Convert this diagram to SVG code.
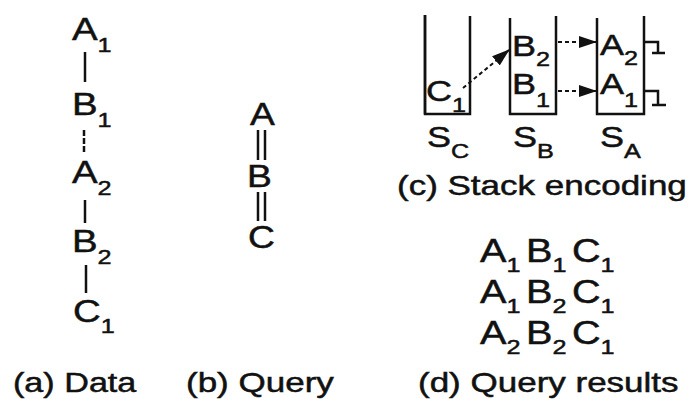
<svg xmlns="http://www.w3.org/2000/svg" width="691" height="399" viewBox="0 0 691 399">
  <style>
    text { font-family: "Liberation Sans", Arial, Helvetica, sans-serif; fill: #111; stroke: #111; stroke-width: 0.5; }
    .d { font-size: 32px; }
    .q { font-size: 31px; }
    .s { font-size: 30px; }
    .r { font-size: 33px; }
    .cap { font-size: 28px; }
    .sub { font-size: 21px; }
    .edge { stroke: #111; stroke-width: 2.5; fill: none; }
    .dash { stroke: #111; stroke-width: 2; stroke-dasharray: 4 3; fill: none; }
    .wall { stroke: #111; stroke-width: 2.5; fill: none; }
  </style>
  <defs>
    <marker id="head" markerUnits="userSpaceOnUse" markerWidth="18" markerHeight="12" refX="17" refY="6" orient="auto">
      <path d="M0,0 L18,6 L0,12 Z" fill="#111"/>
    </marker>
  </defs>

  <!-- (a) data tree -->
  <g id="A1"><text class="d" transform="translate(72 40) scale(1.2 1)">A<tspan class="sub" dy="12">1</tspan></text></g>
  <g id="B1"><text class="d" transform="translate(72 115) scale(1.2 1)">B<tspan class="sub" dy="12">1</tspan></text></g>
  <g id="A2"><text class="d" transform="translate(72 183) scale(1.2 1)">A<tspan class="sub" dy="12">2</tspan></text></g>
  <g id="B2"><text class="d" transform="translate(72 252) scale(1.2 1)">B<tspan class="sub" dy="12">2</tspan></text></g>
  <g id="C1"><text class="d" transform="translate(73 322) scale(1.2 1)">C<tspan class="sub" dy="11">1</tspan></text></g>

  <!-- (b) query pattern -->
  <g id="qA"><text class="q" transform="translate(250 125) scale(1.2 1)">A</text></g>
  <g id="qB"><text class="q" transform="translate(247 187) scale(1.2 1)">B</text></g>
  <g id="qC"><text class="q" transform="translate(248 248) scale(1.2 1)">C</text></g>

  <!-- (c) stacks -->
  <g id="stackC">
    <path class="wall" d="M425,15 V114 H470 V16"/>
    <line class="wall" stroke-width="3.2" x1="425" y1="15" x2="425" y2="114"/>
    <text class="s" transform="translate(426 101) scale(1.2 1)">C<tspan class="sub" dy="11">1</tspan></text>
    <text class="s" transform="translate(427 147) scale(1.2 1)">S<tspan class="sub" dy="11">C</tspan></text>
  </g>
  <g id="stackB">
    <path class="wall" d="M510,18 V114 H556 V16"/>
    <text class="s" transform="translate(512 56) scale(1.2 1)">B<tspan class="sub" dy="10">2</tspan></text>
    <text class="s" transform="translate(512 94) scale(1.2 1)">B<tspan class="sub" dy="13">1</tspan></text>
    <text class="s" transform="translate(513 147) scale(1.2 1)">S<tspan class="sub" dy="11">B</tspan></text>
  </g>
  <g id="stackA">
    <path class="wall" d="M597,18 V114 H644 V16"/>
    <text class="s" transform="translate(600 55) scale(1.2 1)">A<tspan class="sub" dy="10">2</tspan></text>
    <text class="s" transform="translate(600 94) scale(1.2 1)">A<tspan class="sub" dy="13">1</tspan></text>
    <text class="s" transform="translate(600 147) scale(1.2 1)">S<tspan class="sub" dy="11">A</tspan></text>
  </g>

  <!-- (d) results -->
  <g id="results">
    <text class="r" transform="translate(480 262) scale(1.2 1)">A<tspan class="sub" dy="10">1</tspan></text>
    <text class="r" transform="translate(526 262) scale(1.2 1)">B<tspan class="sub" dy="10">1</tspan></text>
    <text class="r" transform="translate(572 262) scale(1.2 1)">C<tspan class="sub" dy="10">1</tspan></text>
    <text class="r" transform="translate(480 303) scale(1.2 1)">A<tspan class="sub" dy="10">1</tspan></text>
    <text class="r" transform="translate(526 303) scale(1.2 1)">B<tspan class="sub" dy="10">2</tspan></text>
    <text class="r" transform="translate(572 303) scale(1.2 1)">C<tspan class="sub" dy="10">1</tspan></text>
    <text class="r" transform="translate(480 344) scale(1.2 1)">A<tspan class="sub" dy="10">2</tspan></text>
    <text class="r" transform="translate(526 344) scale(1.2 1)">B<tspan class="sub" dy="10">2</tspan></text>
    <text class="r" transform="translate(572 344) scale(1.2 1)">C<tspan class="sub" dy="10">1</tspan></text>
  </g>

  <!-- captions -->
  <g id="captions">
    <text class="cap" transform="translate(13 392) scale(1.22 1)">(a) Data</text>
    <text class="cap" transform="translate(186 392) scale(1.25 1)">(b) Query</text>
    <text class="cap" transform="translate(397 195) scale(1.25 1)">(c) Stack encoding</text>
    <text class="cap" transform="translate(418 392) scale(1.25 1)">(d) Query results</text>
  </g>

  <!-- connectors -->
  <g id="connectors">
    <line class="edge" x1="85" y1="52" x2="85" y2="82"/>
    <line class="edge" x1="84" y1="130" x2="84" y2="153" stroke-dasharray="6 2"/>
    <line class="edge" x1="85" y1="200" x2="85" y2="223"/>
    <line class="edge" x1="86" y1="265" x2="86" y2="293" stroke-width="1.8"/>
    <line class="edge" x1="258" y1="130" x2="258" y2="160" stroke-width="2"/>
    <line class="edge" x1="265" y1="130" x2="265" y2="160" stroke-width="2"/>
    <line class="edge" x1="258" y1="192" x2="258" y2="221" stroke-width="2"/>
    <line class="edge" x1="265" y1="192" x2="265" y2="221" stroke-width="2"/>
    <line class="dash" x1="463" y1="88" x2="509" y2="50" marker-end="url(#head)"/>
    <line class="dash" x1="558" y1="42" x2="596" y2="42" marker-end="url(#head)"/>
    <line class="dash" x1="558" y1="91" x2="596" y2="91" marker-end="url(#head)"/>
    <path class="edge" stroke-width="2" d="M645,42 H658 V53 M652,53 H665"/>
    <path class="edge" stroke-width="2" d="M645,91 H658 V105 M652,105 H666"/>
  </g>
</svg>
